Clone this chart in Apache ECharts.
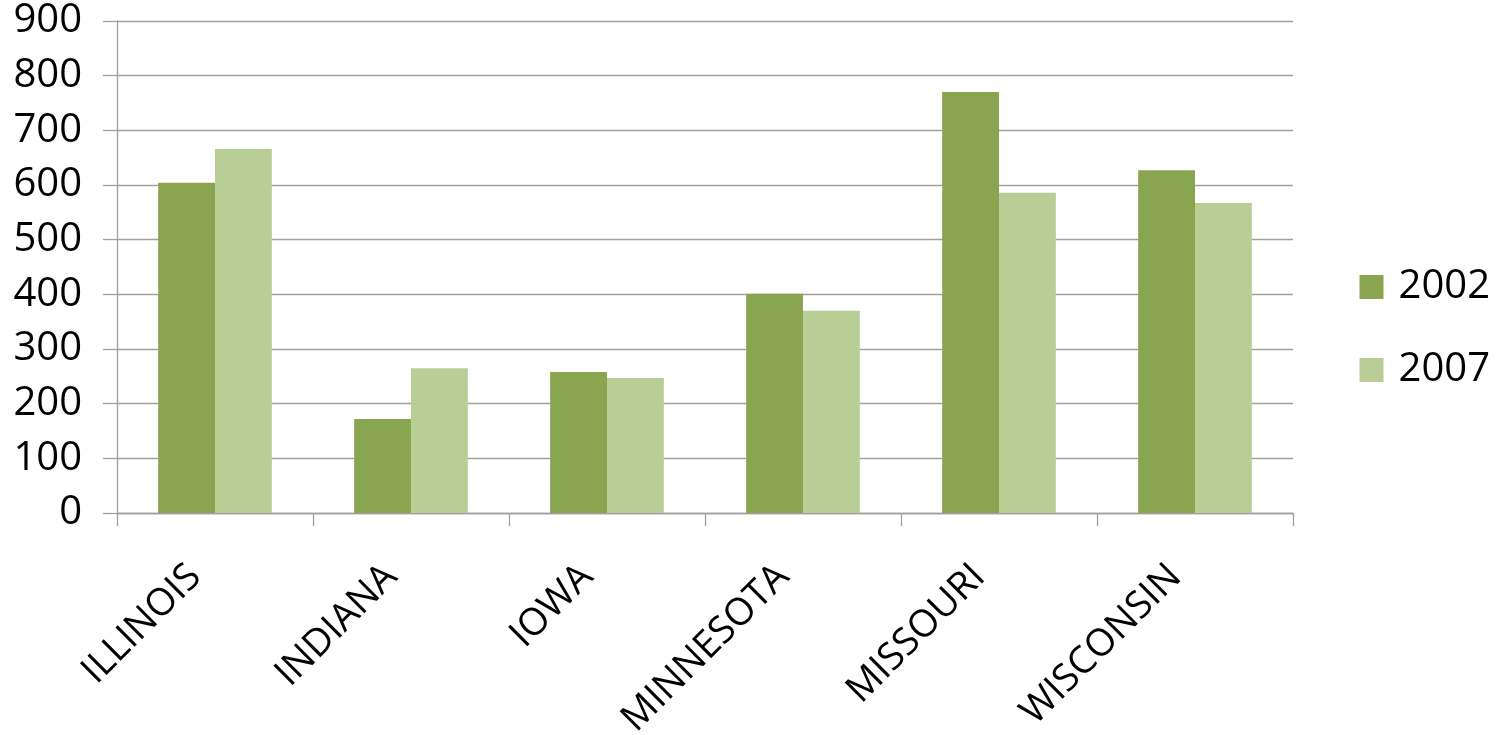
<!DOCTYPE html>
<html>
<head>
<meta charset="utf-8">
<script src="https://cdn.jsdelivr.net/npm/echarts@6/dist/echarts.min.js"></script>
<style>html,body{margin:0;padding:0;background:#fff;}#c{width:1505px;height:735px;}</style>
</head>
<body>
<div id="c"></div>
<script>
const categories = ['ILLINOIS', 'INDIANA', 'IOWA', 'MINNESOTA', 'MISSOURI', 'WISCONSIN'];
const seriesNames = ['2002', '2007'];
const values2002 = [604, 172, 258, 401, 770, 627];
const values2007 = [666, 265, 247, 370, 586, 567];
const yTicks = [0, 100, 200, 300, 400, 500, 600, 700, 800, 900];

const font = 'Open Sans';
const chart = echarts.init(document.getElementById('c'));
chart.setOption({
  animation: false,
  backgroundColor: '#fff',
  grid: { left: 117, right: 212, top: 21, bottom: 222, containLabel: false, outerBoundsMode: 'none' },
  legend: {
    orient: 'vertical',
    right: 10,
    top: 262,
    itemWidth: 24,
    itemHeight: 24,
    itemGap: 43,
    icon: 'rect',
    textStyle: { fontFamily: font, fontSize: 40, color: '#000', padding: [0, 0, 0, 10] },
    data: seriesNames
  },
  xAxis: {
    type: 'category',
    data: categories,
    axisLine: { lineStyle: { color: '#a0a0a0', width: 1.3 } },
    axisTick: { show: true, length: 13, lineStyle: { color: '#a0a0a0', width: 1.3 } },
    axisLabel: { rotate: 45, margin: 38, padding: [0, 28, 0, 0], fontFamily: font, fontSize: 38, color: '#000', interval: 0 }
  },
  yAxis: {
    type: 'value',
    min: 0, max: 900, interval: 100,
    axisLine: { show: true, lineStyle: { color: '#a0a0a0', width: 1.3 } },
    axisTick: { show: true, length: 14, lineStyle: { color: '#a0a0a0', width: 1.3 } },
    splitLine: { lineStyle: { color: '#a0a0a0', width: 1.3 } },
    axisLabel: { margin: 35, fontFamily: font, fontSize: 40, color: '#000',
      formatter: v => yTicks.includes(v) ? String(v) : '' }
  },
  series: [
    { name: seriesNames[0], type: 'bar', data: values2002, barGap: '0%', barCategoryGap: '42%', itemStyle: { color: '#8aa54f' } },
    { name: seriesNames[1], type: 'bar', data: values2007, barGap: '0%', barCategoryGap: '42%', itemStyle: { color: '#b9cd96' } }
  ]
});
</script>
</body>
</html>
